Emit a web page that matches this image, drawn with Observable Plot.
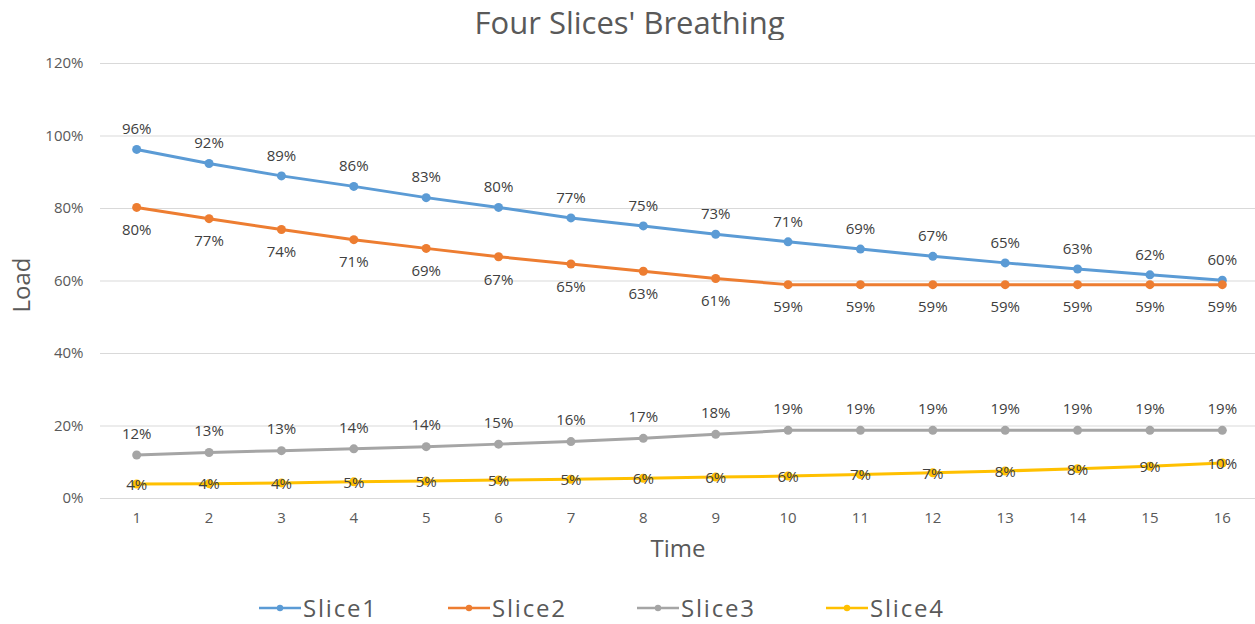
<!DOCTYPE html>
<html><head><meta charset="utf-8">
<script src="https://cdn.jsdelivr.net/npm/d3@7"></script>
<script src="https://cdn.jsdelivr.net/npm/@observablehq/plot@0.6"></script>
<style>
body{margin:0;background:#fff;font-family:"Open Sans",sans-serif;width:1255px;height:624px;position:relative;overflow:hidden;}
#title{position:absolute;top:0;left:0;width:1255px;height:44px;line-height:44px;text-align:center;font-size:31px;color:#595959;white-space:nowrap;padding-left:4px;box-sizing:border-box;}
#chart{position:absolute;top:40px;left:0;}
#chart svg{display:block;}
#legend{position:absolute;top:591px;left:259px;display:flex;align-items:center;font-size:24px;color:#595959;letter-spacing:1.8px;}
.item{display:flex;align-items:center;width:189px;}
.item svg{margin-right:2px;}
</style></head><body>
<div id="title">Four Slices' Breathing</div>
<div id="chart"></div>
<div id="legend"></div>
<script>
const times = [1,2,3,4,5,6,7,8,9,10,11,12,13,14,15,16];
const seriesNames = ["Slice1","Slice2","Slice3","Slice4"];
const slice1 = [96.3,92.4,89.0,86.1,83.0,80.3,77.4,75.2,72.9,70.8,68.8,66.8,65.0,63.3,61.7,60.2];
const slice2 = [80.3,77.2,74.2,71.4,69.0,66.7,64.7,62.7,60.7,59.0,59.0,59.0,59.0,59.0,59.0,59.0];
const slice3 = [12.0,12.7,13.2,13.7,14.3,15.0,15.7,16.6,17.7,18.8,18.8,18.8,18.8,18.8,18.8,18.8];
const slice4 = [4.0,4.1,4.3,4.6,4.8,5.1,5.3,5.6,5.9,6.2,6.6,7.1,7.6,8.2,8.9,9.8];
const yTicks = [0,20,40,60,80,100,120];
const colors = ["#5B9BD5","#ED7D31","#A5A5A5","#FFC000"];
const labelDy = [-20, 23, -21, 1];

const allSeries = [slice1, slice2, slice3, slice4];
const data = allSeries.flatMap((vals, i) => vals.map((v, j) => ({series: seriesNames[i], time: times[j], value: v, idx: i})));

const marks = [
  Plot.ruleY(yTicks, {stroke: "#d9d9d9", strokeWidth: 1}),
  Plot.axisY({ticks: yTicks, tickSize: 0, tickPadding: 17, tickFormat: d => d + "%", fontSize: 15, fill: "#595959", label: null}),
  Plot.axisX({ticks: times, tickSize: 0, tickPadding: 14, tickFormat: d => String(d), fontSize: 15, fill: "#595959", label: null}),
  Plot.text(["Time"], {frameAnchor: "bottom", dy: 58, fontSize: 24, fill: "#595959"}),
  Plot.text(["Load"], {frameAnchor: "left", textAnchor: "middle", dx: -78, dy: 4, rotate: -90, fontSize: 24, fill: "#595959"})
];
seriesNames.forEach((s, i) => {
  const d = data.filter(r => r.idx === i);
  marks.push(Plot.line(d, {x: "time", y: "value", stroke: colors[i], strokeWidth: 3}));
  marks.push(Plot.dot(d, {x: "time", y: "value", fill: colors[i], r: 4.5}));
});
seriesNames.forEach((s, i) => {
  const d = data.filter(r => r.idx === i);
  marks.push(Plot.text(d, {x: "time", y: "value", text: r => Math.round(r.value) + "%", dy: labelDy[i], fontSize: 15, fill: "#404040"}));
});

const chart = Plot.plot({
  width: 1255,
  height: 540,
  marginTop: 23,
  marginBottom: 82,
  marginLeft: 100,
  marginRight: 0,
  style: {fontFamily: "'Open Sans', sans-serif", background: "#fff"},
  x: {type: "linear", domain: [0.5, 16.5], range: [100, 1258]},
  y: {domain: [0, 120]},
  marks
});
document.getElementById("chart").appendChild(chart);

const legend = document.getElementById("legend");
seriesNames.forEach((s, i) => {
  const item = document.createElement("div");
  item.className = "item";
  item.innerHTML = `<svg width="42" height="12"><line x1="0" y1="6" x2="42" y2="6" stroke="${colors[i]}" stroke-width="2.5"/><circle cx="21" cy="6" r="3.2" fill="${colors[i]}"/></svg><span>${s}</span>`;
  legend.appendChild(item);
});
</script>
</body></html>
